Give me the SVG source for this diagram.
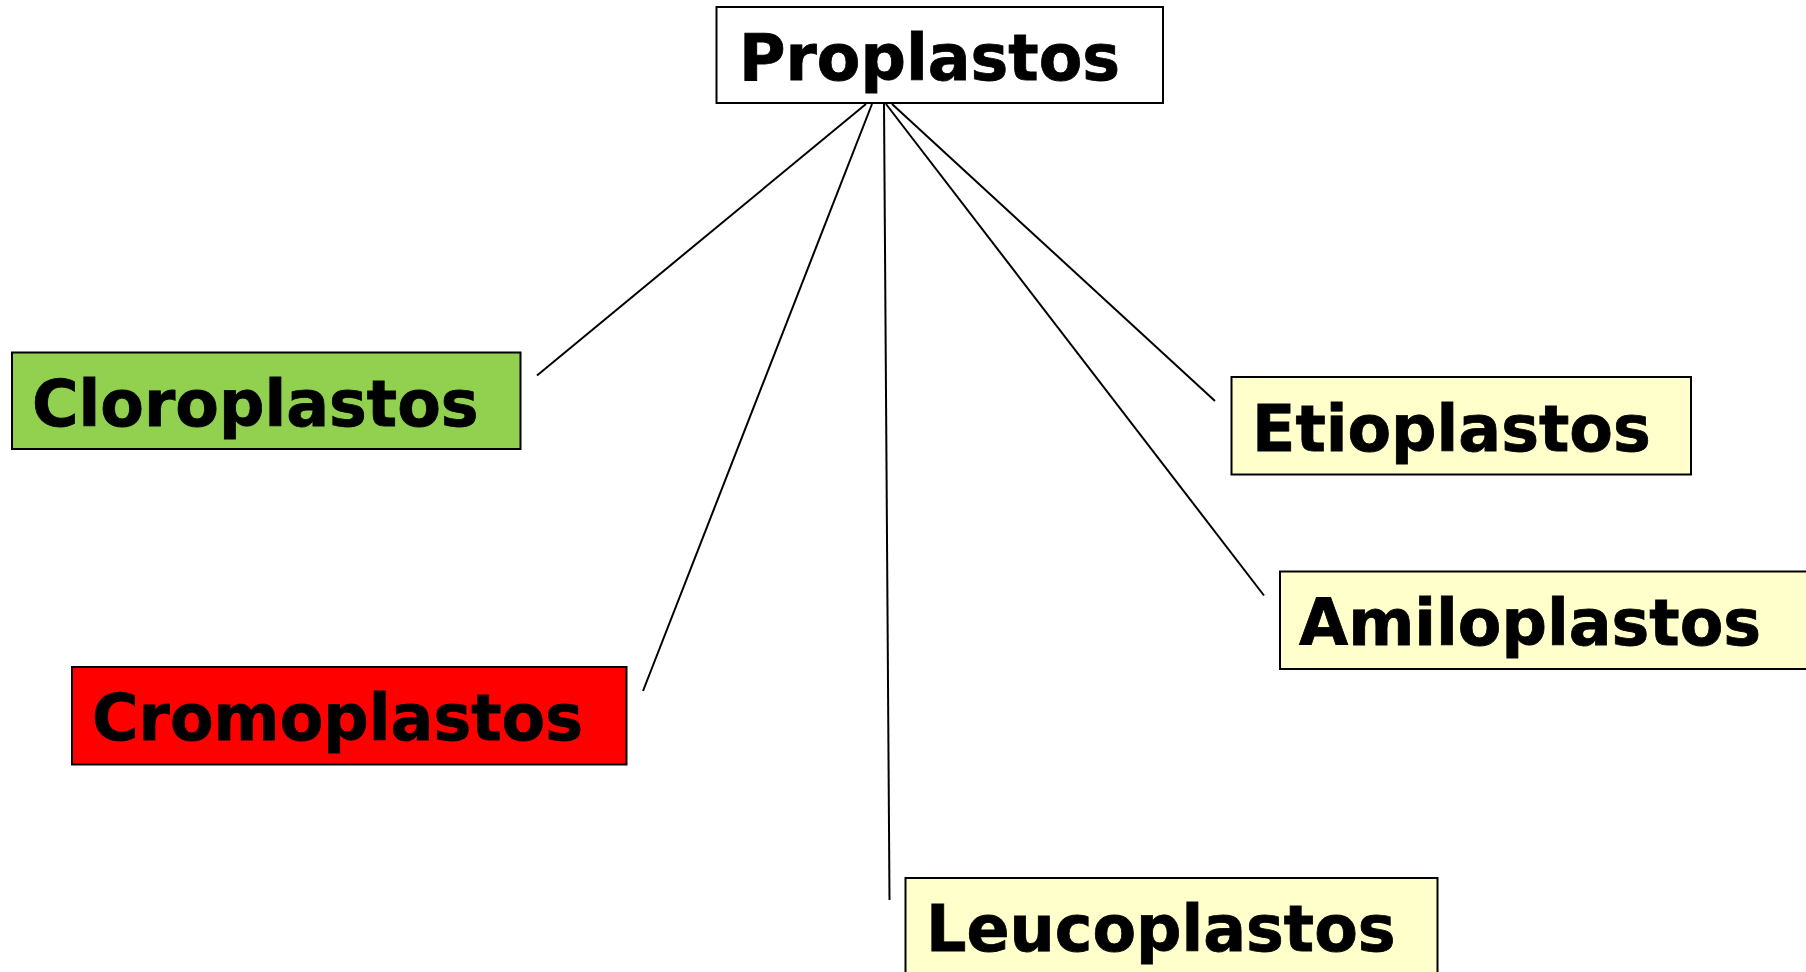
<svg xmlns="http://www.w3.org/2000/svg" width="1806" height="972" viewBox="0 0 1806 972">
<style>
.box{stroke:#000;stroke-width:2}
.lbl{font-family:"DejaVu Sans","Verdana",sans-serif;font-weight:bold;font-size:63.5px;fill:#000;stroke:#000;stroke-width:0.8}
.conn line{stroke:#000;stroke-width:2}
</style>
<rect width="1806" height="972" fill="#fff"/>
<g class="conn">
<line x1="866" y1="104" x2="537" y2="375.5"/>
<line x1="872" y1="104" x2="643" y2="691"/>
<line x1="884" y1="104" x2="889.5" y2="900"/>
<line x1="886" y1="104" x2="1264" y2="595.5"/>
<line x1="892" y1="104" x2="1215" y2="401"/>
</g>
<g id="proplastos">
<rect class="box" x="716.5" y="7" width="446.5" height="96" fill="#fff"/>
<text class="lbl" x="739" y="80">Proplastos</text>
</g>
<g id="cloroplastos">
<rect class="box" x="12" y="352.5" width="508.5" height="96.5" fill="#92D050"/>
<text class="lbl" x="32" y="426">Cloroplastos</text>
</g>
<g id="cromoplastos">
<rect class="box" x="72" y="667" width="554.5" height="97.5" fill="#FF0000"/>
<text class="lbl" x="92" y="740">Cromoplastos</text>
</g>
<g id="leucoplastos">
<rect class="box" x="905.5" y="878" width="532" height="100" fill="#FFFFCC"/>
<text class="lbl" x="926" y="951">Leucoplastos</text>
</g>
<g id="etioplastos">
<rect class="box" x="1231.5" y="377" width="459.5" height="97.5" fill="#FFFFCC"/>
<text class="lbl" x="1252" y="451">Etioplastos</text>
</g>
<g id="amiloplastos">
<rect class="box" x="1280" y="571.5" width="530" height="97.5" fill="#FFFFCC"/>
<text class="lbl" x="1299" y="645">Amiloplastos</text>
</g>
</svg>
